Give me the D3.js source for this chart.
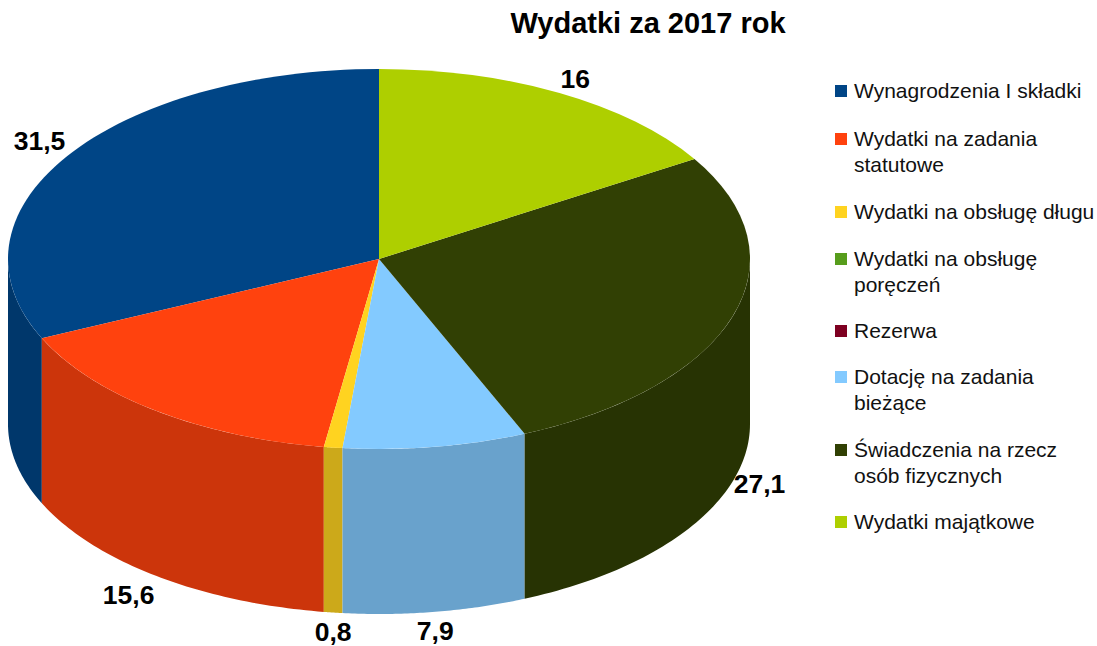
<!DOCTYPE html>
<html>
<head>
<meta charset="utf-8">
<script src="https://cdn.jsdelivr.net/npm/d3@7"></script>
<style>
  html, body { margin: 0; padding: 0; background: #fff; }
  svg { display: block; font-family: "Liberation Sans", Arial, sans-serif; }
</style>
</head>
<body>
<div id="chart"></div>
<script>
const title = "Wydatki za 2017 rok";
const categories = [
  "Wynagrodzenia I składki",
  "Wydatki na zadania statutowe",
  "Wydatki na obsługę długu",
  "Wydatki na obsługę poręczeń",
  "Rezerwa",
  "Dotację na zadania bieżące",
  "Świadczenia na rzecz osób fizycznych",
  "Wydatki majątkowe"
];
const values = [31.5, 15.6, 0.8, 0, 0, 7.9, 27.1, 16];
const valueLabels = ["31,5", "15,6", "0,8", "", "", "7,9", "27,1", "16"];
const legendLines = [
  ["Wynagrodzenia I składki"],
  ["Wydatki na zadania", "statutowe"],
  ["Wydatki na obsługę długu"],
  ["Wydatki na obsługę", "poręczeń"],
  ["Rezerwa"],
  ["Dotację na zadania", "bieżące"],
  ["Świadczenia na rzecz", "osób fizycznych"],
  ["Wydatki majątkowe"]
];
const colors = ["#004586", "#ff420e", "#ffd320", "#579d1c", "#7e0021", "#83caff", "#314004", "#aecf00"];

const width = 1097, height = 646;
const cx = 379, cy = 259, rx = 371, ry = 190, depth = 165;

const svg = d3.select("#chart").append("svg")
  .attr("width", width)
  .attr("height", height)
  .attr("viewBox", `0 0 ${width} ${height}`);

svg.append("text")
  .attr("x", 648)
  .attr("y", 33)
  .attr("text-anchor", "middle")
  .attr("font-size", "29px")
  .attr("font-weight", "bold")
  .text(title);

// slices run counter clockwise from 12 o'clock
const pie = d3.pie().sort(null).startAngle(0).endAngle(-2 * Math.PI);
const slices = pie(values).map((d, i) => ({ ...d, i }));

const ex = a => cx + rx * Math.sin(a);
const ey = a => cy - ry * Math.cos(a);

// 1. side walls, only the front half of the rim shows
const wall = d3.area()
  .x(a => ex(a))
  .y0(a => ey(a))
  .y1(a => ey(a) + depth);

const wallColor = c => {
  const r = d3.rgb(c);
  return d3.rgb(r.r * 0.8, r.g * 0.8, r.b * 0.8).formatHex();
};

const walls = svg.append("g");
slices.forEach(d => {
  const from = Math.max(d.endAngle, -1.5 * Math.PI);
  const to = Math.min(d.startAngle, -0.5 * Math.PI);
  if (from >= to) return;
  const steps = d3.range(0, 61).map(k => from + (to - from) * k / 60);
  walls.append("path")
    .attr("d", wall(steps))
    .attr("fill", wallColor(colors[d.i]));
});

// 2. top surface
const arc = d3.arc().innerRadius(0).outerRadius(rx);
svg.append("g")
  .attr("transform", `translate(${cx},${cy}) scale(1,${ry / rx})`)
  .selectAll("path")
  .data(slices.filter(d => d.value > 0))
  .join("path")
  .attr("d", arc)
  .attr("fill", d => colors[d.i]);

// 3. value labels sit outside the rim, lower half pushed below the wall
const labelRadius = 1.087;
const labelNudge = [[0, -7], [-8, 5], [4, 3], [0, 0], [0, 0], [-5, 2], [-4, -3], [0, 0]];
svg.append("g")
  .selectAll("text")
  .data(slices.filter(d => d.value > 0))
  .join("text")
  .attr("x", d => cx + rx * labelRadius * Math.sin((d.startAngle + d.endAngle) / 2) + labelNudge[d.i][0])
  .attr("y", d => {
    const a = (d.startAngle + d.endAngle) / 2;
    return cy - ry * labelRadius * Math.cos(a) + (Math.cos(a) < 0 ? depth : 0) + labelNudge[d.i][1];
  })
  .attr("dy", "0.36em")
  .attr("text-anchor", "middle")
  .attr("font-size", "26.5px")
  .attr("font-weight", "bold")
  .text(d => valueLabels[d.i]);

// 4. legend
const rowY = [91, 139, 212, 259, 331, 377, 450, 522];
const legend = svg.append("g");
categories.forEach((cat, i) => {
  const row = legend.append("g")
    .attr("transform", `translate(835,${rowY[i]})`);
  row.append("rect")
    .attr("y", -6)
    .attr("width", 12)
    .attr("height", 12)
    .attr("fill", colors[i]);
  legendLines[i].forEach((line, j) => {
    row.append("text")
      .attr("x", 19)
      .attr("y", 7 + j * 26)
      .attr("font-size", "21px")
      .attr("fill", "#111")
      .text(line);
  });
});
</script>
</body>
</html>
